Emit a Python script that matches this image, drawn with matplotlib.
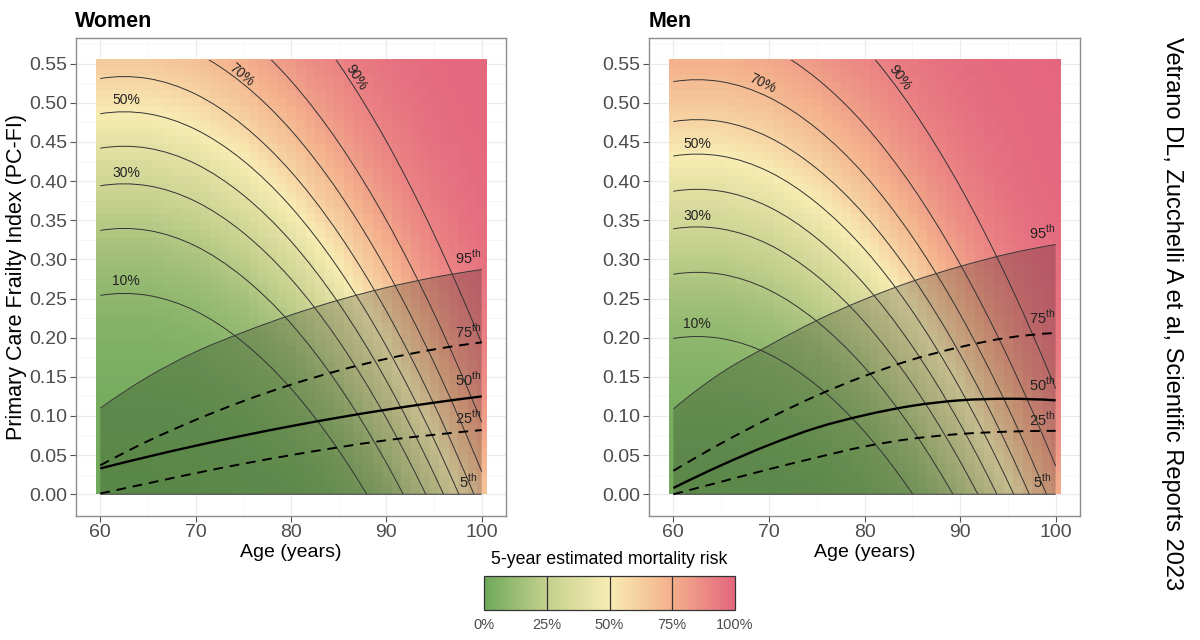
import numpy as np
import matplotlib.pyplot as plt
from matplotlib.colors import LinearSegmentedColormap
from matplotlib.patches import Rectangle, PathPatch
from matplotlib.path import Path

plt.rcParams['font.family'] = ['Liberation Sans', 'DejaVu Sans']
plt.rcParams['mathtext.fontset'] = 'custom'
plt.rcParams['mathtext.rm'] = 'Liberation Sans'

# sampled ages (years) for every curve
AGES = [60, 65, 70, 75, 80, 85, 90, 95, 100]
RISK_LEVELS = [0.1, 0.2, 0.3, 0.4, 0.5, 0.6, 0.7, 0.8, 0.9]

# Women: iso-risk curves, PC-FI value at each age (extended past the edges)
w_c10 = [0.254, 0.254, 0.234, 0.194, 0.135, 0.056, -0.043, -0.162, -0.301]
w_c20 = [0.337, 0.337, 0.317, 0.277, 0.218, 0.139, 0.040, -0.079, -0.218]
w_c30 = [0.394, 0.394, 0.374, 0.334, 0.275, 0.196, 0.097, -0.022, -0.161]
w_c40 = [0.442, 0.442, 0.422, 0.382, 0.323, 0.244, 0.145, 0.026, -0.113]
w_c50 = [0.486, 0.486, 0.466, 0.426, 0.367, 0.288, 0.189, 0.070, -0.069]
w_c60 = [0.531, 0.531, 0.511, 0.471, 0.412, 0.333, 0.234, 0.115, -0.024]
w_c70 = [0.584, 0.584, 0.564, 0.524, 0.465, 0.386, 0.287, 0.168, 0.029]
w_c80 = [0.647, 0.647, 0.627, 0.587, 0.528, 0.449, 0.350, 0.231, 0.092]
w_c90 = [0.748, 0.748, 0.728, 0.688, 0.629, 0.550, 0.451, 0.332, 0.193]

# Men: iso-risk curves
m_c10 = [0.199, 0.199, 0.179, 0.139, 0.080, 0.001, -0.098, -0.217, -0.356]
m_c20 = [0.281, 0.281, 0.261, 0.221, 0.162, 0.083, -0.016, -0.135, -0.274]
m_c30 = [0.339, 0.339, 0.319, 0.279, 0.220, 0.141, 0.042, -0.077, -0.216]
m_c40 = [0.387, 0.387, 0.367, 0.327, 0.268, 0.189, 0.090, -0.029, -0.168]
m_c50 = [0.432, 0.432, 0.412, 0.372, 0.313, 0.234, 0.135, 0.016, -0.123]
m_c60 = [0.476, 0.476, 0.456, 0.416, 0.357, 0.278, 0.179, 0.060, -0.079]
m_c70 = [0.527, 0.527, 0.507, 0.467, 0.408, 0.329, 0.230, 0.111, -0.028]
m_c80 = [0.591, 0.591, 0.571, 0.531, 0.472, 0.393, 0.294, 0.175, 0.036]
m_c90 = [0.690, 0.690, 0.670, 0.630, 0.571, 0.492, 0.393, 0.274, 0.135]

# PC-FI percentiles by age
w_p5 = [0.000, 0.000, 0.000, 0.000, 0.000, 0.000, 0.000, 0.000, 0.000]
w_p25 = [0.001, 0.014, 0.027, 0.039, 0.050, 0.060, 0.069, 0.076, 0.082]
w_p50 = [0.033, 0.048, 0.062, 0.075, 0.087, 0.098, 0.108, 0.117, 0.125]
w_p75 = [0.037, 0.068, 0.095, 0.119, 0.140, 0.158, 0.173, 0.185, 0.194]
w_p95 = [0.110, 0.150, 0.182, 0.207, 0.229, 0.248, 0.264, 0.277, 0.287]

m_p5 = [0.000, 0.000, 0.000, 0.000, 0.000, 0.000, 0.000, 0.000, 0.000]
m_p25 = [0.000, 0.016, 0.032, 0.047, 0.061, 0.071, 0.077, 0.080, 0.081]
m_p50 = [0.008, 0.037, 0.063, 0.085, 0.101, 0.113, 0.120, 0.122, 0.120]
m_p75 = [0.030, 0.065, 0.097, 0.126, 0.151, 0.172, 0.188, 0.200, 0.206]
m_p95 = [0.109, 0.155, 0.190, 0.222, 0.249, 0.272, 0.291, 0.307, 0.319]

women_contours = [w_c10, w_c20, w_c30, w_c40, w_c50, w_c60, w_c70, w_c80, w_c90]
men_contours = [m_c10, m_c20, m_c30, m_c40, m_c50, m_c60, m_c70, m_c80, m_c90]

cmap = LinearSegmentedColormap.from_list(
    "risk", [(0.0, "#6ea85a"), (0.25, "#c4d08e"), (0.5, "#f8ecb3"),
             (0.75, "#f4b08c"), (1.0, "#e4667e")])

TICK_COL = "#4d4d4d"
FI_TOP = 0.555


def risk_grid(contours):
    """Fill the 1-year x PC-FI tiles from the iso-risk curves (logit scale)."""
    age_fine = np.arange(60, 101)
    fi_fine = (np.arange(56) + 0.5) * FI_TOP / 56
    levels = np.array(RISK_LEVELS)
    logits = np.log(levels / (1 - levels))
    fis = np.array([np.interp(age_fine, AGES, c) for c in contours])
    grid = np.zeros((len(fi_fine), len(age_fine)))
    for j in range(len(age_fine)):
        f = fis[:, j]
        lg = np.interp(fi_fine, f, logits)
        lo_s = (logits[1] - logits[0]) / (f[1] - f[0])
        hi_s = (logits[-1] - logits[-2]) / (f[-1] - f[-2])
        lg = np.where(fi_fine < f[0], logits[0] + (fi_fine - f[0]) * lo_s, lg)
        lg = np.where(fi_fine > f[-1], logits[-1] + (fi_fine - f[-1]) * hi_s, lg)
        grid[:, j] = 1 / (1 + np.exp(-lg))
    return grid


def bezier_segments(x, y):
    """Cubic Bezier pieces running through the points (smooth curve)."""
    x = np.asarray(x, float)
    y = np.asarray(y, float)
    mx = np.gradient(x, edge_order=2)
    my = np.gradient(y, edge_order=2)
    verts = []
    for i in range(len(x) - 1):
        verts += [(x[i] + mx[i] / 3, y[i] + my[i] / 3),
                  (x[i + 1] - mx[i + 1] / 3, y[i + 1] - my[i + 1] / 3),
                  (x[i + 1], y[i + 1])]
    return verts


def smooth_path(x, y):
    verts = [(x[0], y[0])] + bezier_segments(x, y)
    codes = [Path.MOVETO] + [Path.CURVE4] * (len(verts) - 1)
    return Path(verts, codes)


def band_path(x, lo, hi):
    up = bezier_segments(x, hi)
    down = bezier_segments(x[::-1], lo[::-1])
    verts = [(x[0], hi[0])] + up + [(x[-1], lo[-1])] + down + [(x[0], hi[0])]
    codes = ([Path.MOVETO] + [Path.CURVE4] * len(up) + [Path.LINETO]
             + [Path.CURVE4] * len(down) + [Path.CLOSEPOLY])
    return Path(verts, codes)


def curve(ax, x, y, **kw):
    p = PathPatch(smooth_path(x, y), fill=False, **kw)
    ax.add_patch(p)
    return p


def draw_panel(ax, title, contours, pcts, clabels, plabels):
    p5, p25, p50, p75, p95 = pcts
    im = ax.imshow(risk_grid(contours), origin="lower", cmap=cmap, vmin=0, vmax=1,
                   extent=(59.5, 100.5, 0, FI_TOP), aspect="auto",
                   interpolation="nearest", zorder=1)

    clip = Rectangle((59.5, 0), 41, FI_TOP, transform=ax.transData)
    for c in contours:
        p = curve(ax, AGES, c, edgecolor="#333333", lw=0.7, zorder=3)
        p.set_clip_path(clip)

    # 5th-95th percentile band
    band = PathPatch(band_path(AGES, p5, p95), facecolor="black", alpha=0.2,
                     lw=0, zorder=2)
    ax.add_patch(band)
    curve(ax, AGES, p95, edgecolor="#3a3a3a", lw=0.7, zorder=4)
    curve(ax, AGES, p5, edgecolor="#3a3a3a", lw=0.7, zorder=4)
    curve(ax, AGES, p75, edgecolor="black", lw=1.4, ls=(0, (5, 3.5)), zorder=4)
    curve(ax, AGES, p25, edgecolor="black", lw=1.4, ls=(0, (5, 3.5)), zorder=4)
    curve(ax, AGES, p50, edgecolor="black", lw=1.7, zorder=4)

    for txt, x, y, rot in clabels:
        ax.text(x, y, txt, fontsize=10, color="#222222", rotation=rot,
                ha="center", va="center", zorder=5)
    for txt, y in plabels:
        ax.text(98.6, y, txt, fontsize=10.5, color="#222222",
                ha="center", va="center", zorder=5)

    ax.set_xlim(57.45, 102.55)
    ax.set_ylim(-0.02775, 0.58275)
    ax.set_xticks([60, 70, 80, 90, 100])
    ax.set_xticks([65, 75, 85, 95], minor=True)
    ax.set_yticks(np.arange(0, 0.551, 0.05))
    ax.set_yticks(np.arange(0.025, 0.58, 0.05), minor=True)
    ax.set_yticklabels([f"{v:.2f}" for v in np.arange(0, 0.551, 0.05)])
    ax.set_axisbelow(True)
    ax.grid(which="major", color="#ebebeb", lw=0.9)
    ax.grid(which="minor", color="#f4f4f4", lw=0.5)
    ax.tick_params(which="major", labelsize=14, colors="#555555", labelcolor=TICK_COL,
                   length=4, width=0.8, pad=2)
    ax.tick_params(which="minor", length=0)
    for s in ax.spines.values():
        s.set_color("#8c8c8c")
        s.set_linewidth(1.0)
    ax.set_xlabel("Age (years)", fontsize=14, labelpad=2)
    ax.set_title(title, loc="left", fontweight="bold", fontsize=15.5, pad=8, x=-0.002)
    return im


def sup(n):
    return n + r"$^{\mathrm{th}}$"


fig = plt.figure(figsize=(12, 6.4), dpi=100)
ax_w = fig.add_axes([76 / 1200, 124 / 640, 430 / 1200, 478 / 640])
ax_m = fig.add_axes([649 / 1200, 124 / 640, 431 / 1200, 478 / 640])

w_clabels = [("10%", 62.7, 0.272, 0), ("30%", 62.7, 0.410, 0), ("50%", 62.7, 0.504, 0),
             ("70%", 74.8, 0.536, -40), ("90%", 86.8, 0.532, -57)]
m_clabels = [("10%", 62.5, 0.218, 0), ("30%", 62.5, 0.356, 0), ("50%", 62.5, 0.448, 0),
             ("70%", 69.3, 0.524, -26), ("90%", 83.7, 0.532, -53)]
w_plabels = [(sup("95"), 0.302), (sup("75"), 0.208), (sup("50"), 0.147),
             (sup("25"), 0.098), (sup("5"), 0.016)]
m_plabels = [(sup("95"), 0.334), (sup("75"), 0.2255), (sup("50"), 0.140),
             (sup("25"), 0.0957), (sup("5"), 0.017)]

im = draw_panel(ax_w, "Women", women_contours, [w_p5, w_p25, w_p50, w_p75, w_p95],
                w_clabels, w_plabels)
draw_panel(ax_m, "Men", men_contours, [m_p5, m_p25, m_p50, m_p75, m_p95],
           m_clabels, m_plabels)
ax_w.set_ylabel("Primary Care Frailty Index (PC-FI)", fontsize=15.5, labelpad=2)

# colour legend
cax = fig.add_axes([484 / 1200, 30 / 640, 251 / 1200, 34 / 640])
cb = fig.colorbar(im, cax=cax, orientation="horizontal")
cb.set_ticks([0, 0.25, 0.5, 0.75, 1.0])
cb.set_ticklabels(["0%", "25%", "50%", "75%", "100%"])
cb.ax.tick_params(length=0, labelsize=10.5, labelcolor=TICK_COL, pad=6)
cb.outline.set_edgecolor("#333333")
cb.outline.set_linewidth(0.9)
for v in [0.25, 0.5, 0.75]:
    cax.axvline(v, color="#333333", lw=0.9)
cax.set_title("5-year estimated mortality risk", fontsize=12.8, pad=9)

fig.text(0.977, 0.51, "Vetrano DL, Zucchelli A et al, Scientific Reports 2023",
         rotation=-90, ha="center", va="center", fontsize=17)

fig.savefig("out.png", dpi=100)
